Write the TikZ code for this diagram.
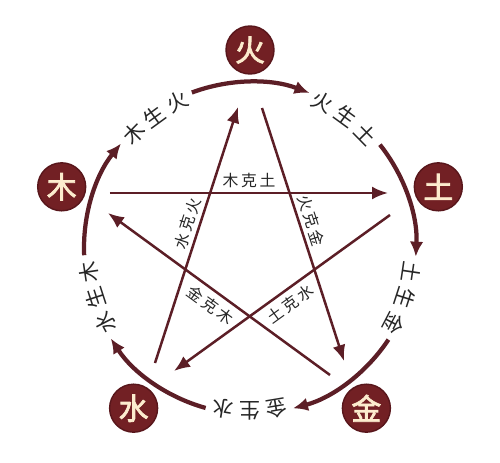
\documentclass[tikz,border=0pt]{standalone}
\usepackage{fontspec}
\newfontfamily\cjk{Noto Sans CJK SC}
\newfontfamily\cjkbold[FakeBold=2.5]{Noto Sans CJK SC}
\usetikzlibrary{arrows.meta}

\definecolor{wxred}{RGB}{114,32,36}
\definecolor{wxdark}{RGB}{88,22,27}
\definecolor{wxline}{RGB}{92,30,38}
\definecolor{wxcream}{RGB}{252,236,206}

\begin{document}
\begin{tikzpicture}[
    badge/.style={circle, fill=wxred, draw=wxdark, line width=0.8pt, minimum size=0.96cm,
      inner sep=0pt, text=wxcream, font=\cjkbold\fontsize{17}{17}\selectfont},
    shengarc/.style={draw=wxline, line width=0.085cm, -{Latex[length=0.3cm,width=0.27cm]}},
    kearrow/.style={draw=wxline, line width=0.05cm, -{Latex[length=0.32cm,width=0.26cm]}},
    shengtext/.style={font=\cjk\fontsize{12}{12}\selectfont, text=black!85, inner sep=0pt},
    ketext/.style={font=\cjk\fontsize{9}{9}\selectfont, text=black!85, sloped, inner sep=2pt}
  ]
      \useasboundingbox (-5,-4.28) rectangle (5,4.96);

      \node[badge] (huo)  at (90:3.96)   {火};
      \node[badge] (tu)   at (18:3.96)   {土};
      \node[badge] (jin)  at (-54:3.96)  {金};
      \node[badge] (shui) at (-126:3.96) {水};
      \node[badge] (mu)   at (162:3.96)  {木};

      \draw[shengarc] (182.5:3.32) arc[start angle=182.5, end angle=141, radius=3.32];
      \draw[shengarc] (110.5:3.32) arc[start angle=110.5, end angle=69, radius=3.32];
      \draw[shengarc] (38.5:3.32)  arc[start angle=38.5, end angle=-3, radius=3.32];
      \draw[shengarc] (-33.5:3.32) arc[start angle=-33.5, end angle=-75, radius=3.32];
      \draw[shengarc] (-105.5:3.32) arc[start angle=-105.5, end angle=-147, radius=3.32];

      % sheng labels along the ring, one glyph at a time
      \foreach \a/\p/\q/\r [count=\i] in {126/木/生/火, 54/火/生/土, -18/土/生/金, -90/金/生/水, -162/水/生/木} {
        \node[shengtext, rotate=\a+9.5-90] (sheng\i a) at ({\a+9.5}:3.26) {\p};
        \node[shengtext, rotate=\a-90]     (sheng\i b) at ({\a}:3.26)     {\q};
        \node[shengtext, rotate=\a-9.5-90] (sheng\i c) at ({\a-9.5}:3.26) {\r};
      }

      \coordinate (mutu-s)   at (-2.8,1.1);
      \coordinate (mutu-e)   at (2.76,1.1);
      \coordinate (huojin-s) at (0.24,2.8);
      \coordinate (huojin-e) at (1.88,-2.26);
      \coordinate (tushui-s) at (2.8,0.66);
      \coordinate (tushui-e) at (-1.52,-2.46);
      \coordinate (jinmu-s)  at (1.6,-2.54);
      \coordinate (jinmu-e)  at (-2.84,0.7);
      \coordinate (shuihuo-s) at (-1.9,-2.3);
      \coordinate (shuihuo-e) at (-0.24,2.82);

      \draw[kearrow] (mutu-s) -- node[ketext, above, pos=0.5] (kemutu) {木\,克\,土} (mutu-e);
      \draw[kearrow] (huojin-s) -- node[ketext, above, pos=0.46] (kehuojin) {火\,克\,金} (huojin-e);
      \draw[kearrow] (tushui-s) -- node[ketext, below=1pt, pos=0.5] (ketushui) {土\,克\,水} (tushui-e);
      \draw[kearrow] (jinmu-s) -- node[ketext, below=1pt, pos=0.5] (kejinmu) {金\,克\,木} (jinmu-e);
      \draw[kearrow] (shuihuo-s) -- node[ketext, above, pos=0.53] (keshuihuo) {水\,克\,火} (shuihuo-e);
\end{tikzpicture}
\end{document}
